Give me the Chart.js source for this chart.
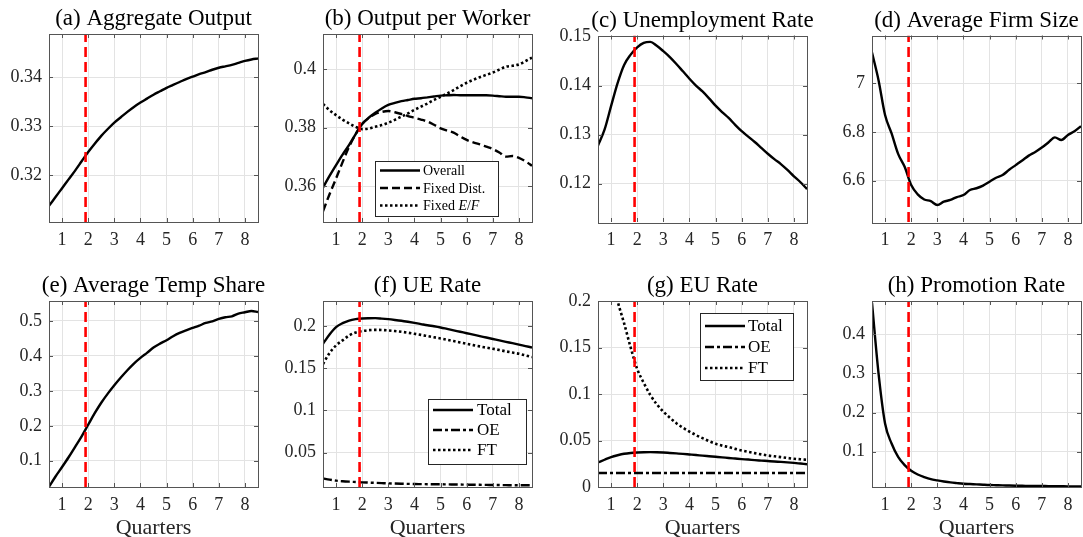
<!DOCTYPE html>
<html>
<head>
<meta charset="utf-8">
<script src="https://cdn.jsdelivr.net/npm/chart.js@4.4.1/dist/chart.umd.min.js"></script>
<style>
  html, body { margin: 0; padding: 0; background: #fff; overflow: hidden; }
  #wrap { position: relative; width: 1083px; height: 537px; }
  #wrap canvas { position: absolute; }
</style>
</head>
<body>
<div id="wrap"></div>
<script>
// quarters on the horizontal axis (sampled every quarter of a quarter)
const quarters = [0.5, 0.75, 1, 1.25, 1.5, 1.75, 2, 2.25, 2.5, 2.75, 3, 3.25, 3.5, 3.75, 4, 4.25, 4.5,
                  4.75, 5, 5.25, 5.5, 5.75, 6, 6.25, 6.5, 6.75, 7, 7.25, 7.5, 7.75, 8, 8.25, 8.5];
const xTicks = [1, 2, 3, 4, 5, 6, 7, 8];
const shockQuarter = 1.9;

// (a) Aggregate Output
const aggOutput = [0.3137, 0.3155, 0.3173, 0.3191, 0.3209, 0.3228, 0.3247, 0.3264, 0.3280, 0.3294, 0.3307,
                   0.3318, 0.3329, 0.3339, 0.3348, 0.3356, 0.3364, 0.3371, 0.3378, 0.3384, 0.3390, 0.3396,
                   0.3401, 0.3406, 0.3410, 0.3415, 0.3419, 0.3422, 0.3425, 0.3429, 0.3433, 0.3436, 0.3438];
// (b) Output per Worker
const opwOverall = [0.3595, 0.3635, 0.3672, 0.3708, 0.3741, 0.3778, 0.3813, 0.3834, 0.3851, 0.3866, 0.3878,
                    0.3885, 0.3891, 0.3895, 0.3899, 0.3901, 0.3904, 0.3907, 0.3910, 0.3911, 0.3912, 0.3911,
                    0.3911, 0.3911, 0.3911, 0.3911, 0.3910, 0.3908, 0.3906, 0.3906, 0.3906, 0.3904, 0.3901];
const opwFixedDist = [0.3514, 0.3572, 0.3626, 0.3682, 0.3735, 0.3778, 0.3813, 0.3833, 0.3847, 0.3854, 0.3857,
                      0.3853, 0.3847, 0.3840, 0.3834, 0.3828, 0.3821, 0.3810, 0.3798, 0.3790, 0.3783, 0.3770,
                      0.3758, 0.3750, 0.3743, 0.3735, 0.3727, 0.3715, 0.3701, 0.3703, 0.3697, 0.3685, 0.3670];
const opwFixedEF = [0.3881, 0.3860, 0.3843, 0.3828, 0.3815, 0.3803, 0.3795, 0.3797, 0.3803, 0.3809, 0.3817,
                    0.3827, 0.3838, 0.3849, 0.3861, 0.3872, 0.3883, 0.3895, 0.3906, 0.3917, 0.3929, 0.3942,
                    0.3954, 0.3964, 0.3973, 0.3981, 0.3989, 0.3999, 0.4009, 0.4012, 0.4017, 0.4028, 0.4040];
// (c) Unemployment Rate
const unempRate = [0.1278, 0.1310, 0.1358, 0.1405, 0.1442, 0.1463, 0.1478, 0.1487, 0.1489, 0.1481, 0.1470,
                   0.1458, 0.1444, 0.1429, 0.1414, 0.1400, 0.1388, 0.1374, 0.1359, 0.1346, 0.1334, 0.1320,
                   0.1307, 0.1296, 0.1285, 0.1273, 0.1261, 0.1250, 0.1240, 0.1228, 0.1215, 0.1203, 0.1189];
// (d) Average Firm Size
const firmSize = [7.126, 7.013, 6.870, 6.794, 6.710, 6.657, 6.582, 6.544, 6.523, 6.516, 6.500,
                  6.514, 6.521, 6.533, 6.541, 6.562, 6.569, 6.580, 6.596, 6.612, 6.623, 6.645,
                  6.664, 6.683, 6.703, 6.718, 6.736, 6.757, 6.778, 6.767, 6.788, 6.803, 6.824];
// (e) Average Temp Share
const tempShare = [0.0257, 0.055, 0.082, 0.110, 0.140, 0.170, 0.203, 0.236, 0.266, 0.292, 0.316,
                   0.3381, 0.3590, 0.3781, 0.3943, 0.4086, 0.4238, 0.4352, 0.4448, 0.4562, 0.4657, 0.4733,
                   0.4800, 0.4867, 0.4943, 0.4990, 0.5057, 0.5105, 0.5133, 0.5210, 0.5248, 0.5286, 0.5257];
// (f) UE Rate
const ueTotal = [0.1789, 0.1899, 0.1986, 0.2033, 0.2064, 0.2080, 0.2088, 0.2091, 0.2092, 0.2087, 0.2080,
                 0.2071, 0.2061, 0.2049, 0.2036, 0.2022, 0.2008, 0.1996, 0.1982, 0.1965, 0.1948, 0.1931,
                 0.1914, 0.1897, 0.1880, 0.1863, 0.1846, 0.1829, 0.1812, 0.1796, 0.1779, 0.1762, 0.1745];
const ueOE = [0.0197, 0.0182, 0.0170, 0.0163, 0.0158, 0.0154, 0.0150, 0.0147, 0.0144, 0.0141, 0.0138,
              0.0136, 0.0134, 0.0132, 0.0130, 0.0129, 0.0128, 0.0127, 0.0127, 0.0126, 0.0125, 0.0124,
              0.0123, 0.0122, 0.0121, 0.0120, 0.0119, 0.0118, 0.0117, 0.0116, 0.0115, 0.0115, 0.0115];
const ueFT = [0.1550, 0.1680, 0.1770, 0.1829, 0.1888, 0.1923, 0.1939, 0.1950, 0.1954, 0.1952, 0.1947,
              0.1940, 0.1931, 0.1920, 0.1907, 0.1894, 0.1880, 0.1866, 0.1852, 0.1837, 0.1821, 0.1805,
              0.1789, 0.1773, 0.1758, 0.1744, 0.1730, 0.1715, 0.1699, 0.1685, 0.1671, 0.1652, 0.1632];
// (g) EU Rate
const euTotal = [0.0264, 0.0293, 0.0321, 0.0341, 0.0357, 0.0366, 0.0371, 0.0374, 0.0375, 0.0374, 0.0371,
                 0.0366, 0.0361, 0.0356, 0.0350, 0.0344, 0.0337, 0.0331, 0.0325, 0.0319, 0.0312, 0.0306,
                 0.0300, 0.0295, 0.0289, 0.0284, 0.0279, 0.0274, 0.0270, 0.0265, 0.0259, 0.0252, 0.0245];
const euOE = [0.0151, 0.0151, 0.0150, 0.0150, 0.0150, 0.0150, 0.0150, 0.0150, 0.0150, 0.0150, 0.0150,
              0.0150, 0.0150, 0.0150, 0.0150, 0.0150, 0.0150, 0.0150, 0.0150, 0.0150, 0.0150, 0.0150,
              0.0150, 0.0150, 0.0150, 0.0150, 0.0150, 0.0150, 0.0150, 0.0150, 0.0150, 0.0150, 0.0150];
const euFT = [0.330, 0.275, 0.232, 0.200, 0.176, 0.150, 0.127, 0.112, 0.099, 0.089, 0.081,
              0.0745, 0.0686, 0.0638, 0.0596, 0.0558, 0.0525, 0.0493, 0.0464, 0.0445, 0.0429, 0.0410,
              0.0393, 0.0378, 0.0364, 0.0351, 0.0339, 0.0330, 0.0321, 0.0312, 0.0304, 0.0298, 0.0293];
// (h) Promotion Rate
const promoRate = [0.480, 0.300, 0.172, 0.121, 0.087, 0.066, 0.0515, 0.042, 0.0354, 0.030, 0.0269,
                   0.0242, 0.0218, 0.0200, 0.0184, 0.0175, 0.0167, 0.0158, 0.0150, 0.0146, 0.0142, 0.0137,
                   0.0133, 0.0131, 0.0129, 0.0127, 0.0125, 0.0123, 0.0121, 0.0119, 0.0117, 0.0116, 0.0116];

// y axes: tick values and limits
const yTicksAgg = [0.32, 0.33, 0.34],            yRangeAgg = [0.3104, 0.3488];
const yTicksOpw = [0.36, 0.38, 0.4],             yRangeOpw = [0.3477, 0.4121];
const yTicksUnemp = [0.12, 0.13, 0.14, 0.15],    yRangeUnemp = [0.1122, 0.1502];
const yTicksFirm = [6.6, 6.8, 7],                yRangeFirm = [6.4304, 7.1963];
const yTicksTemp = [0.1, 0.2, 0.3, 0.4, 0.5],    yRangeTemp = [0.0249, 0.5571];
const yTicksUE = [0.05, 0.1, 0.15, 0.2],         yRangeUE = [0.0095, 0.2295];
const yTicksEU = [0, 0.05, 0.1, 0.15, 0.2],      yRangeEU = [0, 0.2];
const yTicksPromo = [0.1, 0.2, 0.3, 0.4],        yRangePromo = [0.010, 0.485];

const FONT = "'Liberation Serif', 'Times New Roman', serif";
const SOLID = [], DASH = [8, 4], DASHDOT = [9, 3, 3, 3], DOT = [2.5, 2.5];

function series(label, values, dash) {
    return {
        label: label,
        data: quarters.map((q, i) => ({ x: q, y: values[i] })),
        borderColor: '#000',
        borderWidth: dash === DOT ? 2.6 : 2.4,
        borderDash: dash,
        pointRadius: 0,
        fill: false,
        cubicInterpolationMode: 'monotone',
        clip: 0
    };
}

function shockLine(range) {
    return {
        label: '',
        isMarker: true,
        data: [{ x: shockQuarter, y: range[0] }, { x: shockQuarter, y: range[1] }],
        borderColor: '#ff0000',
        borderWidth: 2.6,
        borderDash: [10, 5],
        pointRadius: 0,
        tension: 0,
        clip: 0
    };
}

// draws "Fixed $E/F$" with italic letters inside $...$
function drawRichText(ctx, text, x, y, size) {
    const parts = text.split('$');
    parts.forEach((part, k) => {
        for (const ch of (k % 2 ? part.split('') : [part])) {
            const italic = k % 2 === 1 && /[A-Za-z]/.test(ch);
            ctx.font = (italic ? 'italic ' : '') + size + 'px ' + FONT;
            ctx.fillText(ch, x, y);
            x += ctx.measureText(ch).width;
        }
    });
}

const panelDecor = {
    id: 'panelDecor',
    afterDraw(chart, args, opts) {
        const { ctx, chartArea: a, scales } = chart;
        ctx.save();
        // box and inward ticks
        ctx.strokeStyle = '#555';
        ctx.lineWidth = 1;
        ctx.setLineDash([]);
        ctx.strokeRect(Math.round(a.left) + 0.5, Math.round(a.top) + 0.5,
                       Math.round(a.right - a.left), Math.round(a.bottom - a.top));
        ctx.beginPath();
        scales.x.ticks.forEach(t => {
            const px = Math.round(scales.x.getPixelForValue(t.value)) + 0.5;
            ctx.moveTo(px, a.bottom); ctx.lineTo(px, a.bottom - 4);
            ctx.moveTo(px, a.top); ctx.lineTo(px, a.top + 4);
        });
        scales.y.ticks.forEach(t => {
            const py = Math.round(scales.y.getPixelForValue(t.value)) + 0.5;
            ctx.moveTo(a.left, py); ctx.lineTo(a.left + 4, py);
            ctx.moveTo(a.right, py); ctx.lineTo(a.right - 4, py);
        });
        ctx.stroke();

        // panel title
        ctx.fillStyle = '#000';
        ctx.textAlign = 'center';
        ctx.textBaseline = 'alphabetic';
        ctx.font = '23px ' + FONT;
        ctx.fillText(opts.title, (a.left + a.right) / 2, a.top - 9);

        // legend box
        const lg = opts.legend;
        if (lg) {
            const x0 = Math.round(a.left + lg.left), y0 = Math.round(a.top + lg.top);
            ctx.fillStyle = '#fff';
            ctx.fillRect(x0, y0, lg.width, lg.height);
            ctx.strokeStyle = '#262626';
            ctx.strokeRect(x0 + 0.5, y0 + 0.5, lg.width, lg.height);
            ctx.textAlign = 'left';
            ctx.textBaseline = 'middle';
            chart.data.datasets.filter(d => !d.isMarker).forEach((d, i) => {
                const y = y0 + lg.rowTop + i * lg.rowGap;
                ctx.beginPath();
                ctx.setLineDash(d.borderDash);
                ctx.lineWidth = d.borderWidth;
                ctx.strokeStyle = d.borderColor;
                ctx.moveTo(x0 + 5, y); ctx.lineTo(x0 + 45, y);
                ctx.stroke();
                ctx.fillStyle = '#000';
                drawRichText(ctx, d.label, x0 + lg.textX, y + 1, lg.fontSize);
            });
        }
        ctx.restore();
    }
};

const panels = [
    { title: '(a) Aggregate Output', col: 0, row: 0, top: 34, ticks: yTicksAgg, range: yRangeAgg,
      lines: [series('Output', aggOutput, SOLID)] },
    { title: '(b) Output per Worker', col: 1, row: 0, top: 34, ticks: yTicksOpw, range: yRangeOpw,
      lines: [series('Overall', opwOverall, SOLID), series('Fixed Dist.', opwFixedDist, DASH),
              series('Fixed $E/F$', opwFixedEF, DOT)],
      legend: { left: 52, top: 127, width: 123, height: 55, rowTop: 9.5, rowGap: 17.5, textX: 48, fontSize: 14 } },
    { title: '(c) Unemployment Rate', col: 2, row: 0, top: 35.5, ticks: yTicksUnemp, range: yRangeUnemp,
      lines: [series('Unemployment', unempRate, SOLID)] },
    { title: '(d) Average Firm Size', col: 3, row: 0, top: 35.5, ticks: yTicksFirm, range: yRangeFirm,
      lines: [series('Firm size', firmSize, SOLID)] },
    { title: '(e) Average Temp Share', col: 0, row: 1, top: 41, ticks: yTicksTemp, range: yRangeTemp,
      lines: [series('Temp share', tempShare, SOLID)] },
    { title: '(f) UE Rate', col: 1, row: 1, top: 41, ticks: yTicksUE, range: yRangeUE,
      lines: [series('Total', ueTotal, SOLID), series('OE', ueOE, DASHDOT), series('FT', ueFT, DOT)],
      legend: { left: 105, top: 98, width: 98, height: 65, rowTop: 11, rowGap: 20, textX: 49, fontSize: 17 } },
    { title: '(g) EU Rate', col: 2, row: 1, top: 41, ticks: yTicksEU, range: yRangeEU,
      lines: [series('Total', euTotal, SOLID), series('OE', euOE, DASHDOT), series('FT', euFT, DOT)],
      legend: { left: 102, top: 12, width: 93, height: 67, rowTop: 13, rowGap: 21, textX: 48, fontSize: 17 } },
    { title: '(h) Promotion Rate', col: 3, row: 1, top: 41, ticks: yTicksPromo, range: yRangePromo,
      lines: [series('Promotion', promoRate, SOLID)] }
];

// canvas placement of each column / row
const columns = [
    { left: 0, width: 270, yAxisWidth: 49, padRight: 12 },
    { left: 270, width: 275, yAxisWidth: 53, padRight: 13 },
    { left: 545, width: 270, yAxisWidth: 53, padRight: 8 },
    { left: 815, width: 268, yAxisWidth: 57, padRight: 2 }
];
const rows = [
    { top: 0, height: 260, xAxisHeight: 38, xLabel: '' },
    { top: 260, height: 277, xAxisHeight: 50, xLabel: 'Quarters' }
];

const wrap = document.getElementById('wrap');

panels.forEach(p => {
    const c = columns[p.col], r = rows[p.row];
    const canvas = document.createElement('canvas');
    canvas.width = c.width;
    canvas.height = r.height;
    canvas.style.left = c.left + 'px';
    canvas.style.top = r.top + 'px';
    wrap.appendChild(canvas);

    new Chart(canvas.getContext('2d'), {
        type: 'line',
        data: { datasets: [shockLine(p.range)].concat(p.lines) },
        options: {
            responsive: false,
            animation: false,
            events: [],
            layout: { padding: { top: p.top, right: c.padRight, bottom: 0, left: 0 } },
            plugins: {
                legend: { display: false },
                tooltip: { enabled: false },
                panelDecor: { title: p.title, legend: p.legend }
            },
            scales: {
                x: {
                    type: 'linear',
                    min: 0.5,
                    max: 8.5,
                    afterBuildTicks: axis => { axis.ticks = xTicks.map(v => ({ value: v })); },
                    afterFit: axis => { axis.height = r.xAxisHeight; },
                    border: { display: false },
                    grid: { color: '#e3e3e3', lineWidth: 1, drawTicks: false },
                    ticks: {
                        autoSkip: false, maxRotation: 0, padding: 7, color: '#262626',
                        font: { family: FONT, size: 18 },
                        callback: v => String(v)
                    },
                    title: {
                        display: !!r.xLabel, text: r.xLabel, color: '#262626',
                        font: { family: FONT, size: 22, lineHeight: 1 },
                        padding: { top: 0, bottom: -2 }
                    }
                },
                y: {
                    type: 'linear',
                    min: p.range[0],
                    max: p.range[1],
                    afterBuildTicks: axis => { axis.ticks = p.ticks.map(v => ({ value: v })); },
                    afterFit: axis => { axis.width = c.yAxisWidth; },
                    border: { display: false },
                    grid: { color: '#e3e3e3', lineWidth: 1, drawTicks: false },
                    ticks: {
                        autoSkip: false, padding: 7, color: '#262626',
                        font: { family: FONT, size: 18 },
                        callback: v => String(v)
                    }
                }
            }
        },
        plugins: [panelDecor]
    });
});
</script>
</body>
</html>
